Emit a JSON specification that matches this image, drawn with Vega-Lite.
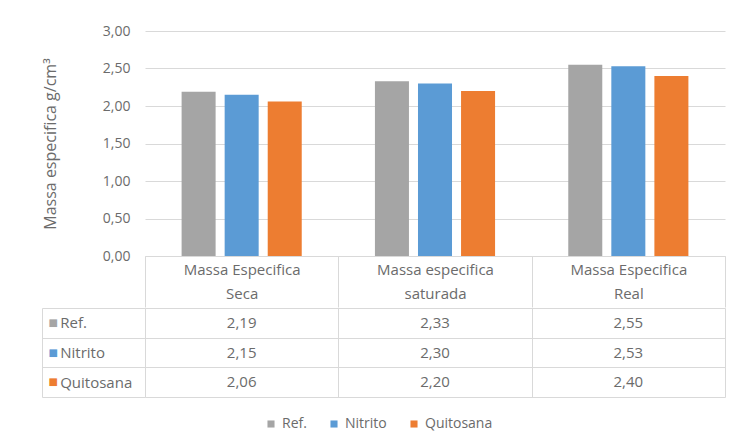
{
  "$schema": "https://vega.github.io/schema/vega-lite/v6.json",
  "background": "white",
  "padding": {"left": 41, "top": 24, "right": 5, "bottom": 5},
  "spacing": -8,
  "config": {
    "locale": {"number": {"decimal": ",", "thousands": ".", "grouping": [3], "currency": ["", ""]}},
    "font": "Open Sans",
    "view": {"stroke": null},
    "axis": {"labelColor": "#6b6b6b", "titleColor": "#6b6b6b", "labelFont": "Open Sans", "titleFont": "Open Sans", "titleFontWeight": "normal"},
    "legend": {"labelColor": "#6b6b6b", "labelFont": "Open Sans"}
  },
  "datasets": {
    "d": [
      {"categoria": "Massa Especifica Seca", "serie": "Ref.", "valor": 2.19},
      {"categoria": "Massa Especifica Seca", "serie": "Nitrito", "valor": 2.15},
      {"categoria": "Massa Especifica Seca", "serie": "Quitosana", "valor": 2.06},
      {"categoria": "Massa especifica saturada", "serie": "Ref.", "valor": 2.33},
      {"categoria": "Massa especifica saturada", "serie": "Nitrito", "valor": 2.30},
      {"categoria": "Massa especifica saturada", "serie": "Quitosana", "valor": 2.20},
      {"categoria": "Massa Especifica Real", "serie": "Ref.", "valor": 2.55},
      {"categoria": "Massa Especifica Real", "serie": "Nitrito", "valor": 2.53},
      {"categoria": "Massa Especifica Real", "serie": "Quitosana", "valor": 2.40}
    ]
  },
  "vconcat": [
    {
      "width": 580,
      "height": 225,
      "data": {"name": "d"},
      "mark": {"type": "bar"},
      "encoding": {
        "x": {
          "field": "categoria", "type": "nominal",
          "sort": ["Massa Especifica Seca", "Massa especifica saturada", "Massa Especifica Real"],
          "scale": {"paddingInner": 0, "paddingOuter": 0},
          "axis": {
            "title": null, "labelAngle": 0, "domain": true, "domainColor": "#d9d9d9",
            "ticks": true, "tickBand": "extent", "tickSize": 51, "tickColor": "#d9d9d9",
            "labelPadding": -45, "labelFontSize": 15, "labelLineHeight": 24, "labelBaseline": "top",
            "labelExpr": "isString(datum.value) ? [slice(datum.value, 0, lastindexof(datum.value, ' ')), slice(datum.value, lastindexof(datum.value, ' ') + 1)] : ''"
          }
        },
        "xOffset": {
          "field": "serie", "type": "nominal", "sort": ["Ref.", "Nitrito", "Quitosana"],
          "scale": {"paddingInner": 0.21, "paddingOuter": 0.85}
        },
        "y": {
          "field": "valor", "type": "quantitative",
          "scale": {"domain": [0, 3]},
          "axis": {
            "values": [0, 0.5, 1, 1.5, 2, 2.5, 3], "format": ".2f",
            "title": "Massa especifica g/cm³", "titleFontSize": 16, "titlePadding": 44,
            "grid": true, "gridColor": "#d9d9d9", "domain": false, "ticks": false,
            "labelPadding": 15, "labelFontSize": 14
          }
        },
        "color": {
          "field": "serie", "type": "nominal",
          "scale": {"domain": ["Ref.", "Nitrito", "Quitosana"], "range": ["#a5a5a5", "#5b9bd5", "#ed7d31"]},
          "legend": {
            "title": null, "orient": "none", "legendX": 119, "legendY": 386, "direction": "horizontal",
            "symbolType": "square", "symbolSize": 50, "labelFontSize": 14, "columnPadding": 20
          }
        }
      }
    },
    {
      "width": 580,
      "height": 89,
      "data": {"name": "d"},
      "layer": [
        {
          "mark": {"type": "text", "fontSize": 15, "color": "#6b6b6b", "font": "Open Sans"},
          "encoding": {
            "x": {
              "field": "categoria", "type": "nominal",
              "sort": ["Massa Especifica Seca", "Massa especifica saturada", "Massa Especifica Real"],
              "scale": {"paddingInner": 0, "paddingOuter": 0},
              "axis": {"title": null, "labels": false, "ticks": false, "domain": false, "grid": true, "tickBand": "extent", "gridColor": "#d9d9d9"}
            },
            "y": {
              "field": "serie", "type": "nominal", "sort": ["Ref.", "Nitrito", "Quitosana"],
              "scale": {"paddingInner": 0, "paddingOuter": 0},
              "axis": {
                "title": null, "grid": true, "gridColor": "#d9d9d9", "tickBand": "extent",
                "ticks": true, "tickSize": 103, "tickColor": "#d9d9d9", "domain": false,
                "labelAlign": "left", "labelPadding": -17.7, "labelFontSize": 15
              }
            },
            "text": {"field": "valor", "type": "quantitative", "format": ".2f"}
          }
        },
        {
          "mark": {"type": "text", "opacity": 0},
          "encoding": {
            "y": {
              "field": "serie", "type": "nominal", "sort": ["Ref.", "Nitrito", "Quitosana"],
              "scale": {"paddingInner": 0, "paddingOuter": 0},
              "axis": {
                "orient": "left", "offset": 103, "title": null, "domain": true, "domainColor": "#d9d9d9",
                "ticks": false, "grid": false, "labelExpr": "'■'", "labelFont": "DejaVu Sans", "labelFontSize": 10,
                "labelAlign": "left", "labelPadding": -6,
                "labelColor": {"condition": [{"test": "datum.value === 'Ref.'", "value": "#a5a5a5"}, {"test": "datum.value === 'Nitrito'", "value": "#5b9bd5"}], "value": "#ed7d31"}
              }
            },
            "text": {"value": ""}
          }
        }
      ],
      "resolve": {"axis": {"y": "independent"}}
    }
  ]
}
